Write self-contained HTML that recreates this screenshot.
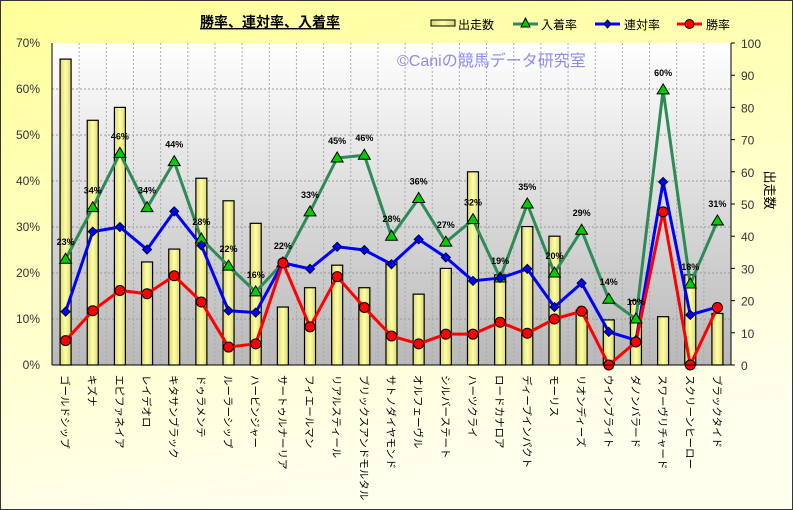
<!DOCTYPE html>
<html><head><meta charset="utf-8"><style>
body{margin:0;padding:0;}
svg{display:block;font-family:"Liberation Sans","Noto Sans CJK JP",sans-serif;}
</style></head><body>
<svg id="c" width="793" height="510" viewBox="0 0 793 510">
<defs>
<linearGradient id="bg" x1="0" y1="0" x2="0.3" y2="1"><stop offset="0" stop-color="#ffff99"/><stop offset="1" stop-color="#ffffee"/></linearGradient>
<linearGradient id="pa" x1="0" y1="0" x2="0" y2="1"><stop offset="0" stop-color="#ffffff"/><stop offset="1" stop-color="#b8b8b8"/></linearGradient>
<linearGradient id="bar" x1="0" y1="0" x2="1" y2="0"><stop offset="0" stop-color="#d8d870"/><stop offset="0.5" stop-color="#ffffa8"/><stop offset="1" stop-color="#d8d870"/></linearGradient>
</defs>
<rect x="0.5" y="0.5" width="792" height="509" fill="url(#bg)" stroke="#333"/>
<rect x="52" y="43" width="679" height="322" fill="url(#pa)"/>
<g id="grid"></g><g id="bars"></g><g id="lines"></g><g id="axes"></g>
<text x="270" y="27" font-size="14" font-weight="bold" text-anchor="middle" text-decoration="underline">勝率、連対率、入着率</text>
<text x="397" y="66" font-size="16" fill="#8c8cf0">©Caniの競馬データ研究室</text>
<g font-size="12">
<g><rect x="431" y="20" width="24" height="6" fill="url(#bar)" stroke="#000"/><text x="458" y="29">出走数</text></g>
<g><line x1="513" y1="24" x2="538" y2="24" stroke="#2e8b57" stroke-width="3"/><polygon points="525.5,18 530,27 521,27" fill="#0c0" stroke="#000"/><text x="541" y="29">入着率</text></g>
<g><line x1="595" y1="24" x2="620" y2="24" stroke="#00f" stroke-width="3"/><polygon points="607.5,20 611,24 607.5,28 604,24" fill="#00f" stroke="#003"/><text x="624" y="29">連対率</text></g>
<g><line x1="677" y1="24" x2="702" y2="24" stroke="#f00" stroke-width="3"/><circle cx="689.5" cy="24" r="4.5" fill="#f00" stroke="#000"/><text x="706" y="29">勝率</text></g>
</g>
<text transform="translate(765,190) rotate(90)" font-size="13" text-anchor="middle">出走数</text>
</svg>
<script>
const categories=["ゴールドシップ","キズナ","エピファネイア","レイデオロ","キタサンブラック","ドゥラメンテ","ルーラーシップ","ハービンジャー","サートゥルナーリア","フィエールマン","リアルスティール","ブリックスアンドモルタル","サトノダイヤモンド","オルフェーヴル","シルバーステート","ハーツクライ","ロードカナロア","ディープインパクト","モーリス","リオンディーズ","ウインブライト","ダノンバラード","スワーヴリチャード","スクリーンヒーロー","ブラックタイド"];
const starts=[95,76,80,32,36,58,51,44,18,24,31,24,32,22,30,60,28,43,40,17,14,20,15,28,16];
const placeRate=[23,34.2,46,34.2,44.2,27.4,21.5,15.9,22.2,33.3,45,45.6,28,36.2,26.7,31.6,18.9,35,20,29.3,14.3,10,59.8,17.6,31.3];
const quinellaRate=[11.6,29,30,25.1,33.4,26,11.8,11.4,22.2,20.9,25.7,25,21.9,27.3,23.4,18.3,18.9,20.9,12.6,17.8,7.2,5.4,39.8,10.9,12.6];
const winRate=[5.3,11.8,16.2,15.5,19.4,13.7,3.9,4.6,22.2,8.3,19.2,12.5,6.3,4.6,6.7,6.7,9.3,6.9,10,11.7,0,5,33.3,0,12.5];
const placeLabels=["23%","34%","46%","34%","44%","28%","22%","16%","22%","33%","45%","46%","28%","36%","27%","32%","19%","35%","20%","29%","14%","10%","60%","18%","31%"];
const yTicks=[0,10,20,30,40,50,60,70];
const y2Ticks=[0,10,20,30,40,50,60,70,80,90,100];

const NS="http://www.w3.org/2000/svg";
const L=52,R=731,T=43,B=365,n=categories.length,cw=(R-L)/n;
const xc=i=>L+cw*(i+0.5);
const y1=v=>B-(v/70)*(B-T);
const y2=v=>B-(v/100)*(B-T);
function mk(p,tag,a){const e=document.createElementNS(NS,tag);for(const k in a)e.setAttribute(k,a[k]);p.appendChild(e);return e;}
const G=document.getElementById('grid'),BA=document.getElementById('bars'),LI=document.getElementById('lines'),AX=document.getElementById('axes');
yTicks.forEach(t=>{if(t>0&&t<70){const l=mk(G,'line',{x1:L,x2:R,y1:y1(t),y2:y1(t),stroke:'#999','stroke-dasharray':'2,2'});

}
const tx=mk(AX,'text',{x:L-12,y:y1(t)+4,'font-size':12,'text-anchor':'end',fill:'#333'});tx.textContent=t+'%';

});
y2Ticks.forEach(t=>{mk(AX,'line',{x1:R,x2:R+4,y1:y2(t),y2:y2(t),stroke:'#000'});
const tx=mk(AX,'text',{x:R+10,y:y2(t)+5,'font-size':12,fill:'#333'});tx.textContent=t;

});
for(let i=1;i<n;i++){const l=mk(G,'line',{x1:L+cw*i,x2:L+cw*i,y1:T,y2:B,stroke:'#aaa','stroke-dasharray':'2,2'});

}
mk(AX,'line',{x1:L,x2:L,y1:T,y2:B,stroke:'#000'});mk(AX,'line',{x1:R,x2:R,y1:T,y2:B,stroke:'#000'});mk(AX,'line',{x1:L,x2:R,y1:B,y2:B,stroke:'#000'});
categories.forEach((c,i)=>{
const b=mk(BA,'rect',{x:xc(i)-5.5,y:y2(starts[i]),width:11,height:B-y2(starts[i]),fill:'url(#bar)',stroke:'#000','stroke-width':1.2});


const t=mk(AX,'text',{transform:`translate(${xc(i)-4},375) rotate(90)`,'font-size':10.5,fill:'#000'});t.textContent=c;

});
function series(vals,color,name){const pts=vals.map((v,i)=>xc(i)+','+y1(v)).join(' ');
const pl=mk(LI,'polyline',{points:pts,fill:'none',stroke:color,'stroke-width':3,'stroke-linejoin':'round'});

}
series(placeRate,'#2e8b57','place-rate');
series(quinellaRate,'#0000ff','quinella-rate');
series(winRate,'#ff0000','win-rate');
placeRate.forEach((v,i)=>{const x=xc(i),y=y1(v);
const m=mk(LI,'polygon',{points:`${x},${y-6} ${x+6},${y+4} ${x-6},${y+4}`,fill:'#00cc00',stroke:'#000'});


const t=mk(LI,'text',{x:x,y:y-14,'font-size':9,'font-weight':'bold','text-anchor':'middle'});t.textContent=placeLabels[i];

});
quinellaRate.forEach((v,i)=>{const x=xc(i),y=y1(v);
const m=mk(LI,'polygon',{points:`${x},${y-4.5} ${x+4.5},${y} ${x},${y+4.5} ${x-4.5},${y}`,fill:'#0000ff',stroke:'#000033'});

});
winRate.forEach((v,i)=>{const m=mk(LI,'circle',{cx:xc(i),cy:y1(v),r:5,fill:'#ff0000',stroke:'#000'});

});
</script>
</body></html>
